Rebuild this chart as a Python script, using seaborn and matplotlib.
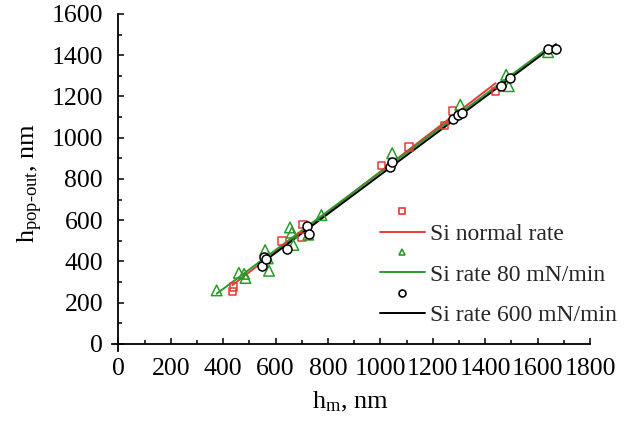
import numpy as np
import pandas as pd
import matplotlib
matplotlib.use("Agg")
import matplotlib.pyplot as plt
from matplotlib.lines import Line2D
from matplotlib.ticker import MultipleLocator
import seaborn as sns

# Pop-out depth versus maximum indentation depth for three loading regimes
normal_hm = [435, 440, 625, 700, 705, 1005, 1110, 1245, 1275, 1440]
normal_hpop = [255, 275, 500, 520, 580, 865, 955, 1060, 1130, 1225]

rate80_hm = [375, 460, 480, 485, 560, 570, 575, 655, 662, 668, 725, 775,
             1045, 1305, 1480, 1490, 1640]
rate80_hpop = [260, 345, 340, 320, 455, 415, 355, 565, 540, 480, 530, 625,
               925, 1160, 1305, 1250, 1415]

rate600_hm = [548, 555, 565, 645, 720, 728, 1035, 1043, 1278, 1295, 1310,
              1460, 1493, 1640, 1670]
rate600_hpop = [380, 420, 410, 462, 572, 532, 860, 882, 1092, 1108, 1120,
                1252, 1288, 1428, 1428]

series_names = ["Si normal rate", "Si rate 80 mN/min", "Si rate 600 mN/min"]
x_ticks = [0, 200, 400, 600, 800, 1000, 1200, 1400, 1600, 1800]
y_ticks = [0, 200, 400, 600, 800, 1000, 1200, 1400, 1600]

sns.set_theme(style="white")
plt.rcParams["font.family"] = ["Liberation Serif", "DejaVu Serif"]
plt.rcParams["mathtext.fontset"] = "custom"
plt.rcParams["mathtext.rm"] = "Liberation Serif"
plt.rcParams["mathtext.it"] = "Liberation Serif"

frames = []
for name, xs, ys in [(series_names[0], normal_hm, normal_hpop),
                     (series_names[1], rate80_hm, rate80_hpop),
                     (series_names[2], rate600_hm, rate600_hpop)]:
    frames.append(pd.DataFrame({"hm": xs, "hpop": ys, "series": name}))
df = pd.concat(frames, ignore_index=True)

colors = {series_names[0]: "#e83a33",
          series_names[1]: "#2b9a2b",
          series_names[2]: "#000000"}
markers = {series_names[0]: "s", series_names[1]: "^", series_names[2]: "o"}
msizes = {series_names[0]: 30, series_names[1]: 58, series_names[2]: 42}
faces = {series_names[0]: "none", series_names[1]: "none", series_names[2]: "white"}

fig = plt.figure(figsize=(6.3, 4.28), dpi=100)
ax = fig.add_axes([0.1775, 0.1794, 0.7590, 0.7879])

# linear fits over each series' own range
for name in series_names:
    sub = df[df["series"] == name]
    sns.regplot(data=sub, x="hm", y="hpop", ax=ax, scatter=False, ci=None,
                truncate=True, color=colors[name],
                line_kws={"linewidth": 1.4, "zorder": 2})

# open markers on top of the fits
for name in series_names:
    sub = df[df["series"] == name]
    ax.scatter(sub["hm"], sub["hpop"], marker=markers[name], s=msizes[name],
               facecolors=faces[name], edgecolors=colors[name],
               linewidths=1.1, zorder=3)

ax.set_xlim(-25, 1800)
ax.set_ylim(-35, 1600)
ax.spines["left"].set_position(("data", 0))
ax.spines["bottom"].set_position(("data", 0))
for side in ["top", "right"]:
    ax.spines[side].set_visible(False)
for side in ["left", "bottom"]:
    ax.spines[side].set_color("black")
    ax.spines[side].set_linewidth(1.3)

ax.set_xticks(x_ticks)
ax.set_yticks(y_ticks)
ax.xaxis.set_minor_locator(MultipleLocator(100))
ax.yaxis.set_minor_locator(MultipleLocator(100))
ax.tick_params(axis="both", which="major", direction="in", length=4.5,
               width=1.1, color="black", labelsize=18.5, labelcolor="black")
ax.tick_params(axis="both", which="minor", direction="in", length=3,
               width=1.1, color="black")
ax.tick_params(axis="x", which="major", pad=10)
ax.tick_params(axis="y", which="major", pad=11)
ax.tick_params(axis="both", which="both", bottom=True, left=True)

ax.set_xlabel(r"h$_\mathregular{m}$, nm", fontsize=19, color="black")
ax.set_ylabel("h$_\\mathregular{pop\u2010out}$, nm", fontsize=19, color="black")
ax.xaxis.set_label_coords(0.5, -0.115)
ax.yaxis.set_label_coords(-0.14, 0.50)
ax.grid(False)

# legend: marker row followed by line row for each series
handles, labels = [], []
for name in series_names:
    handles.append(Line2D([], [], linestyle="none", marker=markers[name],
                          markersize=5, markerfacecolor="none",
                          markeredgecolor=colors[name], markeredgewidth=1.2))
    labels.append("")
    handles.append(Line2D([], [], color=colors[name], linewidth=1.4))
    labels.append(name)
fig.legend(handles, labels, loc="upper left",
           bbox_to_anchor=(380 / 630, 1 - 203 / 428),
           frameon=False, fontsize=17, handlelength=1.9, handletextpad=0.2,
           labelspacing=-0.05, borderpad=0, borderaxespad=0)

fig.savefig("out.png", dpi=100, facecolor="white")
